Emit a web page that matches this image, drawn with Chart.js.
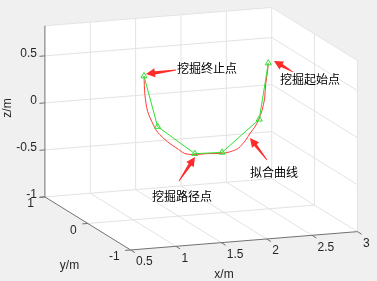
<!DOCTYPE html>
<html lang="zh-CN">
<head>
<meta charset="UTF-8">
<title>挖掘路径</title>
<script src="https://cdn.jsdelivr.net/npm/chart.js@4.4.0/dist/chart.umd.min.js"></script>
<style>
    html, body { margin: 0; padding: 0; background: #f0f0f0; }
    #wrap { width: 377px; height: 281px; }
</style>
</head>
<body>
<div id="wrap"><canvas id="c" width="377" height="281"></canvas></div>
<script>
    // 挖掘路径点, from start point to end point
    const pathX = [2.49, 2.39, 1.98, 1.68, 1.27, 1.12];
    const pathY = [0, 0, 0, 0, 0, 0];
    const pathZ = [0.55, -0.04, -0.36, -0.35, -0.03, 0.52];

    // 拟合曲线
    const fitX = [2.49, 2.48, 2.46, 2.45, 2.42, 2.38, 2.34, 2.29, 2.24, 2.16, 2.07,
                  1.97, 1.82, 1.68, 1.57, 1.50, 1.38, 1.27, 1.22, 1.16, 1.13, 1.12];
    const fitY = [0, 0, 0, 0, 0, 0, 0, 0, 0, 0, 0, 0, 0, 0, 0, 0, 0, 0, 0, 0, 0, 0];
    const fitZ = [0.55, 0.45, 0.32, 0.18, 0.05, -0.05, -0.12, -0.18, -0.25, -0.33, -0.36,
                  -0.37, -0.36, -0.36, -0.34, -0.29, -0.20, -0.09, 0.00, 0.14, 0.32, 0.52];

    const xTicks = [0.5, 1, 1.5, 2, 2.5, 3];
    const yTicks = [-1, 0, 1];
    const zTicks = [-1, -0.5, 0, 0.5];
    const xLabels = ['0.5', '1', '1.5', '2', '2.5', '3'];
    const yLabels = ['-1', '0', '1'];
    const zLabels = ['-1', '-0.5', '0', '0.5'];
    const xLim = [0.5, 3], yLim = [-1, 1], zLim = [-1, 0.82];

    // view: where the corner (xmin, ymax, zmin) lands and how one unit of each axis moves
    const view = { ox: 41, oy: 199, ex: [93.2, -7.6], ey: [-44, -27.5], ez: [0, -97.5] };

    function proj(x, y, z) {
        const dx = x - xLim[0], dy = y - yLim[1], dz = z - zLim[0];
        return {
            x: view.ox + dx * view.ex[0] + dy * view.ey[0] + dz * view.ez[0],
            y: view.oy + dx * view.ex[1] + dy * view.ey[1] + dz * view.ez[1]
        };
    }

    const notes = [
        { text: '挖掘终止点', tx: 177, ty: 68, from: [176, 70], to: [146, 74] },
        { text: '挖掘起始点', tx: 280, ty: 79, from: [293, 72], to: [274, 61] },
        { text: '拟合曲线', tx: 250, ty: 172, from: [267, 160], to: [250, 138] },
        { text: '挖掘路径点', tx: 152, ty: 196, from: [179, 181], to: [195, 157] }
    ];

    const gridColor = '#e3e3e3';
    const axisColor = '#707070';
    const datasets = [];

    function seg(p, q, color, order) {
        datasets.push({
            data: [proj(p[0], p[1], p[2]), proj(q[0], q[1], q[2])],
            showLine: true, borderColor: color, borderWidth: 1,
            pointRadius: 0, order: order
        });
    }

    const [x0, x1] = xLim, [y0, y1] = yLim, [z0, z1] = zLim;
    const zGrid = zTicks.concat([z1]);

    // back wall (y = ymax)
    xTicks.filter(v => v > x0).forEach(v => seg([v, y1, z0], [v, y1, z1], gridColor, 20));
    zGrid.forEach(v => seg([x0, y1, v], [x1, y1, v], gridColor, 20));
    // side wall (x = xmax)
    yTicks.filter(v => v < y1).forEach(v => seg([x1, v, z0], [x1, v, z1], gridColor, 20));
    zGrid.forEach(v => seg([x1, y1, v], [x1, y0, v], gridColor, 20));
    // floor (z = zmin)
    xTicks.filter(v => v > x0 && v < x1).forEach(v => seg([v, y1, z0], [v, y0, z0], gridColor, 20));
    yTicks.filter(v => v > y0 && v < y1).forEach(v => seg([x0, v, z0], [x1, v, z0], gridColor, 20));

    // axis lines and ticks
    seg([x0, y1, z0], [x0, y1, z1], axisColor, 10);
    seg([x0, y1, z0], [x0, y0, z0], axisColor, 10);
    seg([x0, y0, z0], [x1, y0, z0], axisColor, 10);
    xTicks.forEach(v => seg([v, y0, z0], [v, y0 - 0.1, z0], axisColor, 10));
    yTicks.forEach(v => seg([x0, v, z0], [x0 - 0.06, v, z0], axisColor, 10));
    zTicks.forEach(v => seg([x0, y1, v], [x0 - 0.06, y1, v], axisColor, 10));

    datasets.push({
        data: fitX.map((v, i) => proj(v, fitY[i], fitZ[i])),
        showLine: true, borderColor: '#ff3b3b', borderWidth: 1, tension: 0.3,
        pointRadius: 0, order: 2
    });
    datasets.push({
        data: pathX.map((v, i) => proj(v, pathY[i], pathZ[i])),
        showLine: true, borderColor: '#30e030', borderWidth: 1,
        pointStyle: 'triangle', pointRadius: 3.5, pointBorderWidth: 1,
        pointBorderColor: '#30e030', pointBackgroundColor: 'rgba(0,0,0,0)', order: 1
    });

    // white faces behind the box
    const boxFaces = {
        id: 'boxFaces',
        beforeDatasetsDraw(chart) {
            const { ctx, scales } = chart;
            const corners = [[x0, y1, z1], [x1, y1, z1], [x1, y0, z1], [x1, y0, z0], [x0, y0, z0], [x0, y1, z0]];
            ctx.save();
            ctx.fillStyle = '#ffffff';
            ctx.beginPath();
            corners.forEach((c, i) => {
                const p = proj(c[0], c[1], c[2]);
                const px = scales.x.getPixelForValue(p.x), py = scales.y.getPixelForValue(p.y);
                if (i === 0) ctx.moveTo(px, py); else ctx.lineTo(px, py);
            });
            ctx.closePath();
            ctx.fill();
            ctx.restore();
        }
    };

    function arrow(ctx, a, b) {
        const dx = b[0] - a[0], dy = b[1] - a[1];
        const len = Math.hypot(dx, dy);
        const ux = dx / len, uy = dy / len, nx = -uy, ny = ux;
        const head = 9, hw = 4.5, sw = 1.6;
        const bx = b[0] - ux * head, by = b[1] - uy * head;
        ctx.beginPath();
        ctx.moveTo(a[0] + nx * 0.4, a[1] + ny * 0.4);
        ctx.lineTo(bx + nx * sw, by + ny * sw);
        ctx.lineTo(bx + nx * hw, by + ny * hw);
        ctx.lineTo(b[0], b[1]);
        ctx.lineTo(bx - nx * hw, by - ny * hw);
        ctx.lineTo(bx - nx * sw, by - ny * sw);
        ctx.lineTo(a[0] - nx * 0.4, a[1] - ny * 0.4);
        ctx.closePath();
        ctx.fill();
    }

    const labelsPlugin = {
        id: 'labels3d',
        afterDatasetsDraw(chart) {
            const { ctx, scales } = chart;
            const px = p => [scales.x.getPixelForValue(p.x), scales.y.getPixelForValue(p.y)];
            ctx.save();
            ctx.fillStyle = '#262626';
            ctx.font = '12px "Liberation Sans", Arial, sans-serif';
            ctx.textBaseline = 'middle';

            ctx.textAlign = 'right';
            zTicks.forEach((v, i) => {
                const [x, y] = px(proj(x0, y1, v));
                ctx.fillText(zLabels[i], x - 8, y - 2.5);
            });
            yTicks.forEach((v, i) => {
                const [x, y] = px(proj(x0, v, z0));
                ctx.fillText(yLabels[i], x - 11, y + 7);
            });
            ctx.textAlign = 'left';
            xTicks.forEach((v, i) => {
                const [x, y] = px(proj(v, y0, z0));
                ctx.fillText(xLabels[i], x + 5.5, y + 12);
            });

            ctx.textAlign = 'center';
            ctx.fillText('x/m', 224, 275);
            ctx.fillText('y/m', 69.5, 266);
            ctx.save();
            ctx.translate(7.5, 108);
            ctx.rotate(-Math.PI / 2);
            ctx.fillText('z/m', 0, 0);
            ctx.restore();

            // annotations
            ctx.fillStyle = '#ff2a2a';
            notes.forEach(n => arrow(ctx, n.from, n.to));
            ctx.fillStyle = '#000000';
            ctx.font = '12px "Noto Sans CJK SC", sans-serif';
            ctx.textAlign = 'left';
            notes.forEach(n => ctx.fillText(n.text, n.tx, n.ty));
            ctx.restore();
        }
    };

    new Chart(document.getElementById('c'), {
        type: 'scatter',
        data: { datasets: datasets },
        options: {
            responsive: false,
            animation: false,
            events: [],
            layout: { padding: 0 },
            plugins: { legend: { display: false }, tooltip: { enabled: false } },
            scales: {
                x: { type: 'linear', min: 0, max: 377, display: false },
                y: { type: 'linear', min: 0, max: 281, reverse: true, display: false }
            }
        },
        plugins: [boxFaces, labelsPlugin]
    });
</script>
</body>
</html>
